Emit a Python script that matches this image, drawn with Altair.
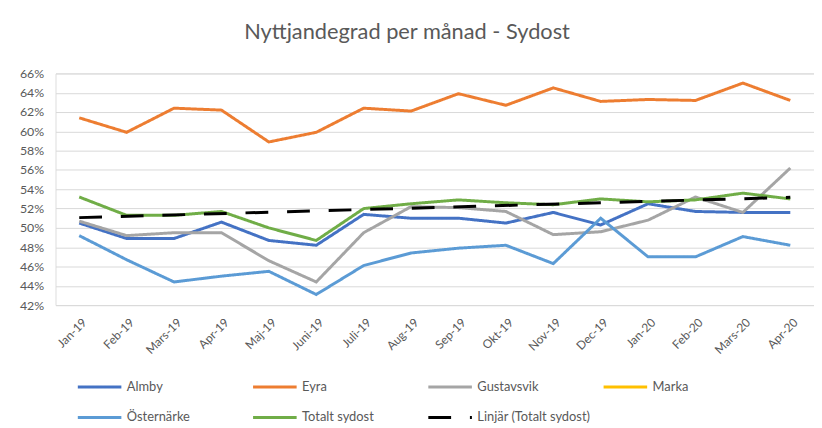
import json
import altair as alt
import pandas as pd

MONTHS = ["Jan-19", "Feb-19", "Mars-19", "Apr-19", "Maj-19", "Juni-19", "Juli-19",
          "Aug-19", "Sep-19", "Okt-19", "Nov-19", "Dec-19", "Jan-20", "Feb-20",
          "Mars-20", "Apr-20"]

ALMBY = [50.5, 48.9, 48.9, 50.6, 48.7, 48.2, 51.4, 51.0, 51.0, 50.5, 51.6, 50.3, 52.5, 51.7, 51.6, 51.6]
EYRA = [61.4, 59.9, 62.4, 62.2, 58.9, 59.9, 62.4, 62.1, 63.9, 62.7, 64.5, 63.1, 63.3, 63.2, 65.0, 63.2]
GUSTAVSVIK = [50.7, 49.2, 49.5, 49.5, 46.6, 44.4, 49.5, 52.2, 52.1, 51.7, 49.3, 49.6, 50.8, 53.2, 51.6, 56.2]
MARKA = []
OSTERNARKE = [49.2, 46.7, 44.4, 45.0, 45.5, 43.1, 46.1, 47.4, 47.9, 48.2, 46.3, 51.0, 47.0, 47.0, 49.1, 48.2]
TOTALT = [53.2, 51.3, 51.3, 51.7, 50.0, 48.7, 52.0, 52.5, 52.9, 52.6, 52.4, 53.0, 52.7, 52.9, 53.6, 53.0]

SERIES = ["Almby", "Eyra", "Gustavsvik", "Marka", "Östernärke", "Totalt sydost", "Linjär (Totalt sydost)"]
COLORS = ["#4472C4", "#ED7D31", "#A5A5A5", "#FFC000", "#5B9BD5", "#70AD47", "#000000"]
DASHES = [[1, 0], [1, 0], [1, 0], [1, 0], [1, 0], [1, 0], [23, 19]]
Y_TICKS = [0.42, 0.44, 0.46, 0.48, 0.50, 0.52, 0.54, 0.56, 0.58, 0.60, 0.62, 0.64, 0.66]

rows = []
for name, vals in [("Almby", ALMBY), ("Eyra", EYRA), ("Gustavsvik", GUSTAVSVIK),
                   ("Marka", MARKA), ("Östernärke", OSTERNARKE), ("Totalt sydost", TOTALT)]:
    for i, v in enumerate(vals):
        rows.append({"idx": i, "month": MONTHS[i], "series": name, "value": v / 100})
df = pd.DataFrame(rows)

W, H = 766, 234
FONT = "Lato"
TXT = "#595959"

label_expr = json.dumps(MONTHS) + "[datum.value]"

x_enc = alt.X("idx:Q", scale=alt.Scale(domain=[-0.5, 15.5], nice=False, zero=False),
              axis=alt.Axis(values=list(range(16)), labelExpr=label_expr, title=None,
                            labelAngle=-45, labelAlign="right", labelBaseline="middle",
                            labelPadding=15, labelOffset=5, grid=False, ticks=False,
                            domain=False, labelFontSize=12, labelColor=TXT,
                            labelFont=FONT, labelOverlap=False))
y_enc = alt.Y("value:Q", scale=alt.Scale(domain=[0.42, 0.66], nice=False, zero=False),
              axis=alt.Axis(values=Y_TICKS, format=".0%", title=None, ticks=False,
                            domain=False, gridColor="#D9D9D9", gridWidth=1,
                            labelPadding=12, labelFontSize=12.5, labelColor=TXT,
                            labelFont=FONT))

legend = alt.Legend(title=None, orient="none", legendX=21, legendY=293, columns=4,
                    direction="horizontal", columnPadding=6, rowPadding=-16,
                    symbolType="stroke", symbolSize=1936, symbolStrokeWidth=3,
                    labelFontSize=13, labelColor=TXT, labelFont=FONT, labelOffset=4,
                    gridAlign="all", padding=0)

color_enc = alt.Color("series:N", scale=alt.Scale(domain=SERIES, range=COLORS), legend=legend)
dash_enc = alt.StrokeDash("series:N", scale=alt.Scale(domain=SERIES, range=DASHES), legend=legend)

lines = alt.Chart(df).mark_line(strokeWidth=3).encode(
    x=x_enc, y=y_enc, color=color_enc, strokeDash=dash_enc)

trend = alt.Chart(df).transform_filter(
    alt.datum.series == "Totalt sydost"
).transform_regression("idx", "value").transform_calculate(
    series='"Linjär (Totalt sydost)"'
).mark_line(strokeWidth=3).encode(x=x_enc, y=y_enc, color=color_enc, strokeDash=dash_enc)

chart = alt.layer(lines, trend).properties(
    width=W, height=H,
    title=alt.TitleParams("Nyttjandegrad per månad - Sydost", font=FONT, fontSize=22,
                          fontWeight="normal", color=TXT, anchor="middle", frame="group",
                          dx=-28, offset=7, baseline="alphabetic"),
    autosize=alt.AutoSizeParams(type="none"),
    padding={"left": 48, "top": 64, "right": 0, "bottom": 119},
).configure_view(stroke=None).configure(background="white")

chart.save("out.html", embed_options={"renderer": "svg", "actions": False})
